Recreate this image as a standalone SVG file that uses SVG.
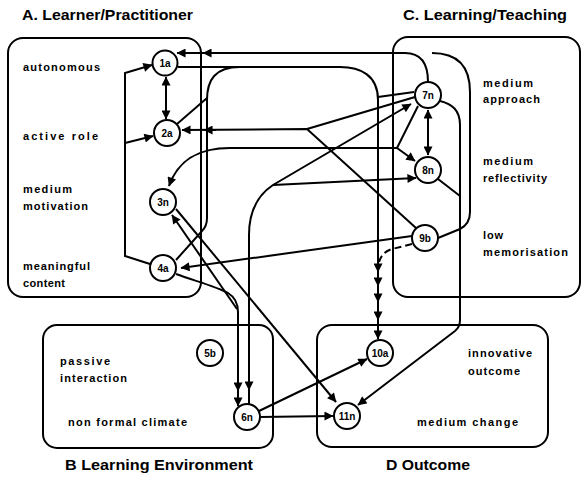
<svg xmlns="http://www.w3.org/2000/svg" width="584" height="478" viewBox="0 0 584 478">
<style>
.ln{fill:none;stroke:#000;stroke-width:2}
.ar{marker-end:url(#ah)}
.db{marker-start:url(#ah);marker-end:url(#ah)}
.dash{stroke-dasharray:7 4}
.panel{fill:none;stroke:#000;stroke-width:2}
.node circle{fill:#fff;stroke:#000;stroke-width:2}
.node text{font-family:"Liberation Sans",Arial,sans-serif;font-size:10px;font-weight:bold;text-anchor:middle}
.lbl{font-family:"Liberation Sans",Arial,sans-serif;font-size:11px;font-weight:bold}
.ttl{font-family:"Liberation Sans",Arial,sans-serif;font-size:14px;font-weight:bold}
</style>
<defs>
<marker id="ah" viewBox="0 0 10 10" refX="9.5" refY="5" markerWidth="10" markerHeight="9" markerUnits="userSpaceOnUse" orient="auto-start-reverse">
<path d="M0,0L10,5L0,10z" fill="#000"/>
</marker>
</defs>
<rect width="584" height="478" fill="#fff"/>

<g id="panelA">
<rect class="panel" x="8" y="38" width="193" height="259" rx="15"/>
<text class="ttl" x="22" y="20" textLength="171" lengthAdjust="spacingAndGlyphs">A. Learner/Practitioner</text>
<text class="lbl" x="23" y="71" textLength="77" lengthAdjust="spacing">autonomous</text>
<text class="lbl" x="23" y="140" textLength="75" lengthAdjust="spacing">active role</text>
<text class="lbl" x="23" y="193" textLength="49" lengthAdjust="spacing">medium</text>
<text class="lbl" x="23" y="210" textLength="65" lengthAdjust="spacing">motivation</text>
<text class="lbl" x="23" y="270" textLength="67" lengthAdjust="spacing">meaningful</text>
<text class="lbl" x="23" y="287" textLength="42" lengthAdjust="spacing">content</text>
</g>
<g id="panelC">
<rect class="panel" x="393" y="37" width="187" height="260" rx="15"/>
<text class="ttl" x="403" y="20" textLength="164" lengthAdjust="spacingAndGlyphs">C. Learning/Teaching</text>
<text class="lbl" x="483" y="87" textLength="50" lengthAdjust="spacing">medium</text>
<text class="lbl" x="483" y="103" textLength="57" lengthAdjust="spacing">approach</text>
<text class="lbl" x="483" y="165" textLength="50" lengthAdjust="spacing">medium</text>
<text class="lbl" x="483" y="182" textLength="64" lengthAdjust="spacing">reflectivity</text>
<text class="lbl" x="483" y="239" textLength="20" lengthAdjust="spacing">low</text>
<text class="lbl" x="483" y="256" textLength="85" lengthAdjust="spacing">memorisation</text>
</g>
<g id="panelB">
<rect class="panel" x="43" y="325" width="230" height="123" rx="14"/>
<text class="ttl" x="65" y="470" textLength="188" lengthAdjust="spacingAndGlyphs">B  Learning Environment</text>
<text class="lbl" x="60" y="365" textLength="50" lengthAdjust="spacing">passive</text>
<text class="lbl" x="60" y="382" textLength="67" lengthAdjust="spacing">interaction</text>
<text class="lbl" x="68" y="426" textLength="119" lengthAdjust="spacing">non formal climate</text>
</g>
<g id="panelD">
<rect class="panel" x="317" y="325" width="231" height="122" rx="15"/>
<text class="ttl" x="386" y="470" textLength="84" lengthAdjust="spacingAndGlyphs">D  Outcome</text>
<text class="lbl" x="468" y="357" textLength="64" lengthAdjust="spacing">innovative</text>
<text class="lbl" x="468" y="375" textLength="52" lengthAdjust="spacing">outcome</text>
<text class="lbl" x="417" y="426" textLength="101" lengthAdjust="spacing">medium change</text>
</g>

<g id="connectors">
<path class="ln db" d="M166,77 V119"/>
<path class="ln ar" d="M150,264 L125,256 V73 L152,65"/>
<path class="ln ar" d="M125,143 L153,136"/>
<path class="ln ar" d="M428,82 C428,62 420,53 405,53 L177,53"/>
<path class="ln ar" d="M214,53 L203,53"/>
<path class="ln" d="M438,238 L460,229 Q470,224 470,212 V92 Q470,53 432,53"/>
<path class="ln ar" d="M440,101 C452,104 460,110 460,125 V320 Q460,327 455,331 L358,405"/>
<path class="ln" d="M438,179 L460,196"/>
<path class="ln db" d="M428,110 V155"/>
<path class="ln ar" d="M178,67 H340 C360,67 378,75 378,100 V339"/>
<path class="ln" d="M177,124 L207,98"/>
<path class="ln" d="M176,260 L202,231 Q207,226 207,218 V100 C207,80 215,67 240,67"/>
<path class="ln ar" d="M378,262 V272"/>
<path class="ln ar" d="M378,276 V286"/>
<path class="ln ar" d="M378,292 V302"/>
<path class="ln ar" d="M378,310 V320"/>
<path class="ln dash" d="M412,244 L392,249 Q382,252 379,262"/>
<path class="ln ar" d="M412,236 L181,268"/>
<path class="ln ar" d="M416,228 L307,129 L182,130"/>
<path class="ln ar" d="M216,130 L204,130"/>
<path class="ln" d="M415,97 L307,129"/>
<path class="ln" d="M414,92 L378,97"/>
<path class="ln ar" d="M418,106 L397,148 H230 C205,148 180,155 169,186"/>
<path class="ln ar" d="M397,148 L415,161"/>
<path class="ln ar" d="M249,404 V235 C249,210 258,195 273,185 L411,104"/>
<path class="ln ar" d="M273,185 L416,178"/>
<path class="ln ar" d="M249,380 V390"/>
<path class="ln ar" d="M176,274 C195,281 215,286 228,293 Q238,299 238,312 V406"/>
<path class="ln ar" d="M238,381 V391"/>
<path class="ln ar" d="M237,309 L172,215"/>
<path class="ln ar" d="M176,209 L336,402"/>
<path class="ln ar" d="M259,411 L367,359"/>
<path class="ln ar" d="M260,417 L333,416"/>
</g>

<g id="n1a" class="node"><circle cx="165" cy="63" r="12.5"/><text x="165" y="67">1a</text></g>
<g id="n2a" class="node"><circle cx="167" cy="133" r="13"/><text x="167" y="137">2a</text></g>
<g id="n3n" class="node"><circle cx="163" cy="202" r="13"/><text x="163" y="206">3n</text></g>
<g id="n4a" class="node"><circle cx="163" cy="268" r="13"/><text x="163" y="272">4a</text></g>
<g id="n5b" class="node"><circle cx="210" cy="353" r="13"/><text x="210" y="357">5b</text></g>
<g id="n6n" class="node"><circle cx="247" cy="417" r="13"/><text x="247" y="421">6n</text></g>
<g id="n7n" class="node"><circle cx="428" cy="95" r="13"/><text x="428" y="99">7n</text></g>
<g id="n8n" class="node"><circle cx="428" cy="170" r="13"/><text x="428" y="174">8n</text></g>
<g id="n9b" class="node"><circle cx="425" cy="238" r="13"/><text x="425" y="242">9b</text></g>
<g id="n10a" class="node"><circle cx="380" cy="353" r="13"/><text x="380" y="357">10a</text></g>
<g id="n11n" class="node"><circle cx="347" cy="416" r="13"/><text x="347" y="420">11n</text></g>
</svg>
